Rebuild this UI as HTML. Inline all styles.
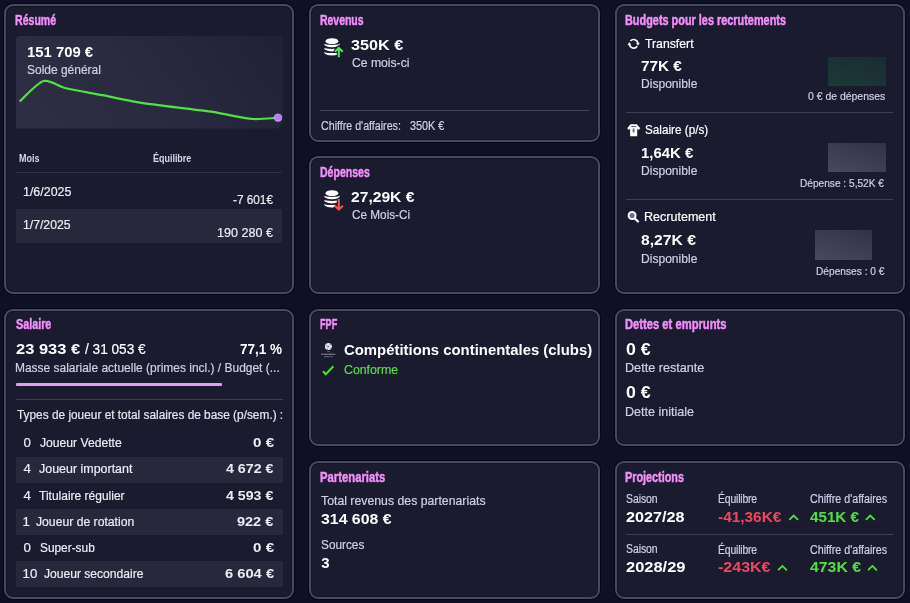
<!DOCTYPE html>
<html lang="fr"><head><meta charset="utf-8"><title>Finances</title>
<style>
html,body{margin:0;padding:0}
body{width:910px;height:603px;overflow:hidden;background:#0f0f25;position:relative;font-family:"Liberation Sans",Arial,sans-serif;}
.p{position:absolute;box-sizing:border-box;background:#1b1b2f;border:2px solid #48485f;border-radius:9px;box-shadow:0 0 0 1px rgba(0,0,8,.55),inset 0 0 0 1px rgba(8,8,20,.35)}
.t{position:absolute;white-space:nowrap;line-height:normal;transform-origin:0 0}
.r{position:absolute}
svg.ov{position:absolute;left:0;top:0}
</style></head><body>
<div class="p" style="left:4px;top:4px;width:290.4px;height:290px"></div>
<div class="p" style="left:308.9px;top:4px;width:291.2px;height:137.8px"></div>
<div class="p" style="left:308.9px;top:156.4px;width:291.2px;height:137.6px"></div>
<div class="p" style="left:614.8px;top:4px;width:290.2px;height:290px"></div>
<div class="p" style="left:4px;top:308.7px;width:290.4px;height:290.2px"></div>
<div class="p" style="left:308.9px;top:308.7px;width:291.2px;height:137.8px"></div>
<div class="p" style="left:308.9px;top:460.7px;width:291.2px;height:138.2px"></div>
<div class="p" style="left:614.8px;top:308.7px;width:290.2px;height:137.8px"></div>
<div class="p" style="left:614.8px;top:460.7px;width:290.2px;height:138.2px"></div>

<!-- Résumé chart box -->
<div class="r" style="left:15.7px;top:36px;width:267.3px;height:92.5px;border-radius:4px;background:linear-gradient(235deg,#212136 0%,#29293f 50%,#2e2e45 100%);clip-path:polygon(0 0,100% 0,100% calc(100% - 5px),calc(100% - 5px) 100%,0 100%)"></div>
<!-- table -->
<div class="r" style="left:15.8px;top:172.3px;width:266px;height:1px;background:#2f2f45"></div>
<div class="r" style="left:15.8px;top:209px;width:266px;height:33.5px;background:#28283d"></div>
<!-- Revenus divider -->
<div class="r" style="left:320.2px;top:109.5px;width:268.4px;height:1.5px;background:#45455c"></div>
<!-- Budgets -->
<div class="r" style="left:828px;top:56.5px;width:58px;height:29px;background:linear-gradient(200deg,#1a2b33 0%,#1c3a36 100%)"></div>
<div class="r" style="left:626px;top:112px;width:267px;height:1px;background:#3c3c52"></div>
<div class="r" style="left:827.7px;top:143.3px;width:58.4px;height:29.2px;background:linear-gradient(200deg,#323247 0%,#48485e 100%)"></div>
<div class="r" style="left:626px;top:199px;width:267px;height:1px;background:#3c3c52"></div>
<div class="r" style="left:815px;top:230.4px;width:57.3px;height:29.7px;background:linear-gradient(200deg,#323247 0%,#48485e 100%)"></div>
<!-- Salaire -->
<div class="r" style="left:15.7px;top:383.4px;width:206px;height:2.4px;border-radius:1px;background:#e79af0"></div>
<div class="r" style="left:15.7px;top:398.8px;width:267.3px;height:1px;background:#3c3c52"></div>
<div class="r" style="left:15.8px;top:457.2px;width:267px;height:26px;background:#28283d"></div>
<div class="r" style="left:15.8px;top:509.1px;width:267px;height:25.8px;background:#28283d"></div>
<div class="r" style="left:15.8px;top:561.1px;width:267px;height:25.8px;background:#28283d"></div>
<!-- Projections divider -->
<div class="r" style="left:626px;top:533.7px;width:267.2px;height:1px;background:#3c3c52"></div>

<svg class="ov" width="910" height="603" viewBox="0 0 910 603">
  <!-- chart line -->
  <path d="M20.2 100.9 C23.5 98.1 37.2 82.8 43.6 81.0 C50.0 79.2 57.8 86.2 66.0 88.2 C74.2 90.2 92.1 93.2 102.3 95.2 C112.5 97.2 127.0 100.5 138.5 102.3 C150.0 104.1 174.4 107.1 184.6 108.4 C194.8 109.7 204.4 110.7 211.0 111.7 C217.6 112.7 226.0 114.6 232.0 115.6 C238.0 116.6 247.5 118.7 253.9 119.0 C260.3 119.3 274.6 117.9 278.0 117.7" fill="none" stroke="#50e23e" stroke-width="2.2" stroke-linecap="round"/>
  <circle cx="278" cy="117.7" r="3.8" fill="#b57ff2" stroke="#d6b8f8" stroke-width="0.6"/>
  <!-- coins revenus -->
  <g transform="translate(320,34)">
    <path d="M3.9 9.6 A8.1 3.7 0 0 0 20.1 9.6 A8.1 1.3 0 0 1 3.9 9.6 Z" fill="#fff"/>
    <path d="M3.9 13.7 A8.1 3.7 0 0 0 20.1 13.7 A8.1 1.3 0 0 1 3.9 13.7 Z" fill="#fff"/>
    <path d="M3.9 17.8 A8.1 3.7 0 0 0 20.1 17.8 A8.1 1.3 0 0 1 3.9 17.8 Z" fill="#fff"/>
    <ellipse cx="11.95" cy="7.2" rx="6.4" ry="3.0" fill="#fff"/>
  </g>
  <g transform="translate(320,34)">
    <path d="M18.8 23.3 V13.9 M15 17.6 L18.8 13.8 L22.7 17.7" fill="none" stroke="#1b1b2f" stroke-width="4"/>
    <path d="M18.8 23.3 V13.9 M15 17.6 L18.8 13.8 L22.7 17.7" fill="none" stroke="#45ee45" stroke-width="2"/>
  </g>
  <!-- coins depenses -->
  <g transform="translate(320,186)">
    <path d="M3.9 9.6 A8.1 3.7 0 0 0 20.1 9.6 A8.1 1.3 0 0 1 3.9 9.6 Z" fill="#fff"/>
    <path d="M3.9 13.7 A8.1 3.7 0 0 0 20.1 13.7 A8.1 1.3 0 0 1 3.9 13.7 Z" fill="#fff"/>
    <path d="M3.9 17.8 A8.1 3.7 0 0 0 20.1 17.8 A8.1 1.3 0 0 1 3.9 17.8 Z" fill="#fff"/>
    <ellipse cx="11.95" cy="7.2" rx="6.4" ry="3.0" fill="#fff"/>
  </g>
  <g transform="translate(320,186)">
    <path d="M18.8 12.9 V23.4 M14.9 19.8 L18.8 23.7 L22.9 19.8" fill="none" stroke="#1b1b2f" stroke-width="4"/>
    <path d="M18.8 12.9 V23.4 M14.9 19.8 L18.8 23.7 L22.9 19.8" fill="none" stroke="#f25555" stroke-width="2"/>
  </g>
  <!-- refresh -->
  <g transform="translate(633.6,43.8)" fill="none" stroke="#fff" stroke-width="1.6">
    <path d="M-3.21 -2.86 A4.3 4.3 0 0 1 4.3 -0.4"/>
    <path d="M3.56 2.40 A4.3 4.3 0 0 1 -4.25 0.4"/>
    <path d="M2.9 -0.6 L5.7 -0.6 L4.3 1.5 Z" fill="#fff" stroke-width="0.6" stroke-linejoin="round"/>
    <path d="M-5.65 0.9 L-2.85 0.9 L-4.25 -1.2 Z" fill="#fff" stroke-width="0.6" stroke-linejoin="round"/>
  </g>
  <!-- shirt -->
  <g transform="translate(624,120)">
    <path d="M6.5 4.2 L12.8 4.2 L16.3 8.3 L14.6 10 L13.2 8.8 L13.2 16.3 L6.1 16.3 L6.1 8.8 L4.8 10 L3.2 8.3 Z" fill="#fff"/>
    <path d="M7.2 6.6 H12.1" stroke="#3a3a50" stroke-width="0.9"/>
    <ellipse cx="9.6" cy="10.4" rx="1.1" ry="2.2" fill="#6d6d85"/>
  </g>
  <!-- magnifier -->
  <g transform="translate(632.1,215.5)">
    <circle r="3.5" fill="#6c6c82" stroke="#fff" stroke-width="1.9"/>
    <path d="M2.8 3.1 L5.9 6.0" stroke="#fff" stroke-width="2.3" stroke-linecap="round"/>
  </g>
  <!-- UEFA -->
  <g transform="translate(328.4,346.6)">
    <circle r="3.5" fill="#e6e6ee"/>
    <path d="M-0.3 -0.9 L0.5 -0.2 L0.1 0.7 L-0.8 0.6 L-1 -0.3 Z" fill="#2a2a3e"/>
    <path d="M-2.6 -1.6 l0.9 0.2 l-0.2 0.9 l-0.8 -0.3 Z" fill="#3a3a4e"/>
    <path d="M1.6 -2.6 l0.9 0.4 l-0.4 0.8 l-0.7 -0.5 Z" fill="#3a3a4e"/>
    <path d="M2.3 1.0 l0.8 0.4 l-0.4 0.8 l-0.8 -0.4 Z" fill="#3a3a4e"/>
    <path d="M-1.6 2.0 l0.8 0.2 l-0.1 0.9 l-0.9 -0.2 Z" fill="#3a3a4e"/>
  </g>
  <path d="M327 351.6 H330" stroke="#a0a0b0" stroke-width="0.8" stroke-dasharray="0.6 0.4"/>
  <path d="M321.3 354.2 H335.3" stroke="#b8b8c8" stroke-width="1.1" stroke-dasharray="0.9 0.35"/>
  <path d="M324 356.7 H333" stroke="#9a9aae" stroke-width="0.9" stroke-dasharray="0.7 0.4"/>
  <!-- check -->
  <path d="M323 371.2 L325.8 374.2 L333.4 366.2" fill="none" stroke="#4be03a" stroke-width="2"/>
  <!-- chevrons -->
  <g fill="none" stroke="#4fe23f" stroke-width="1.8" stroke-linecap="round">
    <path d="M789.8 519.3 L793.6 515.5 L797.6 519.4"/>
    <path d="M866.4 519.3 L870.2 515.5 L874.2 519.4"/>
    <path d="M778.6 569.7 L782.4 565.9 L786.4 569.8"/>
    <path d="M868.6 569.7 L872.4 565.9 L876.4 569.8"/>
  </g>
</svg>
<div class="t" style="left:15.09px;top:11.10px;font-size:15px;font-weight:700;color:#f28ff9;transform:scaleX(0.7051);-webkit-text-stroke:0.5px #f28ff9;">Résumé</div>
<div class="t" style="left:27.00px;top:42.90px;font-size:15.3px;font-weight:700;color:#ffffff;transform:scaleX(0.9702);">151 709 €</div>
<div class="t" style="left:27.00px;top:62.80px;font-size:11.98px;font-weight:400;color:#d0d0e5;-webkit-text-stroke:0.2px #d0d0e5;">Solde général</div>
<div class="t" style="left:19.20px;top:152.50px;font-size:10px;font-weight:700;color:#d6d6e6;transform:scaleX(0.9002);">Mois</div>
<div class="t" style="left:152.60px;top:152.50px;font-size:10px;font-weight:700;color:#d6d6e6;transform:scaleX(0.8954);">Équilibre</div>
<div class="t" style="left:22.78px;top:183.60px;font-size:13.57px;font-weight:400;color:#ededf5;transform:scaleX(0.9171);-webkit-text-stroke:0.2px #ededf5;">1/6/2025</div>
<div class="t" style="left:232.70px;top:191.80px;font-size:13.25px;font-weight:400;color:#ededf5;transform:scaleX(0.8887);-webkit-text-stroke:0.2px #ededf5;">-7 601€</div>
<div class="t" style="left:22.80px;top:216.90px;font-size:13.57px;font-weight:400;color:#ededf5;transform:scaleX(0.8995);-webkit-text-stroke:0.2px #ededf5;">1/7/2025</div>
<div class="t" style="left:216.55px;top:224.70px;font-size:13.25px;font-weight:400;color:#ededf5;transform:scaleX(0.9509);-webkit-text-stroke:0.2px #ededf5;">190 280 €</div>
<div class="t" style="left:320.00px;top:10.80px;font-size:15px;font-weight:700;color:#f28ff9;transform:scaleX(0.6963);-webkit-text-stroke:0.5px #f28ff9;">Revenus</div>
<div class="t" style="left:351.00px;top:36.60px;font-size:14.9px;font-weight:700;color:#ffffff;transform:scaleX(1.0855);">350K €</div>
<div class="t" style="left:351.50px;top:55.60px;font-size:12.51px;font-weight:400;color:#d0d0e5;transform:scaleX(0.9733);-webkit-text-stroke:0.2px #d0d0e5;">Ce mois-ci</div>
<div class="t" style="left:320.70px;top:119.20px;font-size:11.87px;font-weight:400;color:#d0d0e5;transform:scaleX(0.8990);-webkit-text-stroke:0.2px #d0d0e5;">Chiffre d'affaires:</div>
<div class="t" style="left:409.70px;top:119.20px;font-size:11.87px;font-weight:400;color:#d0d0e5;transform:scaleX(0.9107);-webkit-text-stroke:0.2px #d0d0e5;">350K €</div>
<div class="t" style="left:320.00px;top:162.90px;font-size:15px;font-weight:700;color:#f28ff9;transform:scaleX(0.7033);-webkit-text-stroke:0.5px #f28ff9;">Dépenses</div>
<div class="t" style="left:351.00px;top:189.20px;font-size:14.8px;font-weight:700;color:#ffffff;transform:scaleX(1.0564);">27,29K €</div>
<div class="t" style="left:351.50px;top:208.00px;font-size:12.51px;font-weight:400;color:#d0d0e5;transform:scaleX(0.9405);-webkit-text-stroke:0.2px #d0d0e5;">Ce Mois-Ci</div>
<div class="t" style="left:625.27px;top:10.90px;font-size:15px;font-weight:700;color:#f28ff9;transform:scaleX(0.7260);-webkit-text-stroke:0.5px #f28ff9;">Budgets pour les recrutements</div>
<div class="t" style="left:645.00px;top:36.30px;font-size:13.04px;font-weight:400;color:#ffffff;transform:scaleX(0.9398);-webkit-text-stroke:0.2px #ffffff;">Transfert</div>
<div class="t" style="left:641.10px;top:57.00px;font-size:15.5px;font-weight:700;color:#ffffff;transform:scaleX(0.9870);">77K €</div>
<div class="t" style="left:640.77px;top:76.00px;font-size:13.04px;font-weight:400;color:#d0d0e5;transform:scaleX(0.9262);-webkit-text-stroke:0.2px #d0d0e5;">Disponible</div>
<div class="t" style="left:807.50px;top:90.00px;font-size:11.45px;font-weight:400;color:#d0d0e5;transform:scaleX(0.9132);-webkit-text-stroke:0.2px #d0d0e5;">0 € de dépenses</div>
<div class="t" style="left:644.50px;top:121.50px;font-size:13.04px;font-weight:400;color:#ffffff;transform:scaleX(0.8998);-webkit-text-stroke:0.2px #ffffff;">Salaire (p/s)</div>
<div class="t" style="left:641.10px;top:144.20px;font-size:15.2px;font-weight:700;color:#ffffff;transform:scaleX(0.9824);">1,64K €</div>
<div class="t" style="left:640.77px;top:163.40px;font-size:13.04px;font-weight:400;color:#d0d0e5;transform:scaleX(0.9262);-webkit-text-stroke:0.2px #d0d0e5;">Disponible</div>
<div class="t" style="left:799.80px;top:177.10px;font-size:11.45px;font-weight:400;color:#d0d0e5;transform:scaleX(0.8859);-webkit-text-stroke:0.2px #d0d0e5;">Dépense : 5,52K €</div>
<div class="t" style="left:644.04px;top:208.50px;font-size:13.04px;font-weight:400;color:#ffffff;transform:scaleX(0.9624);-webkit-text-stroke:0.2px #ffffff;">Recrutement</div>
<div class="t" style="left:641.10px;top:231.20px;font-size:15.2px;font-weight:700;color:#ffffff;transform:scaleX(1.0326);">8,27K €</div>
<div class="t" style="left:640.77px;top:250.50px;font-size:13.04px;font-weight:400;color:#d0d0e5;transform:scaleX(0.9262);-webkit-text-stroke:0.2px #d0d0e5;">Disponible</div>
<div class="t" style="left:815.80px;top:264.70px;font-size:11.45px;font-weight:400;color:#d0d0e5;transform:scaleX(0.8895);-webkit-text-stroke:0.2px #d0d0e5;">Dépenses : 0 €</div>
<div class="t" style="left:15.70px;top:315.20px;font-size:15px;font-weight:700;color:#f28ff9;transform:scaleX(0.7184);-webkit-text-stroke:0.5px #f28ff9;">Salaire</div>
<div class="t" style="left:15.70px;top:340.20px;font-size:15px;font-weight:700;color:#ffffff;transform:scaleX(1.0974);">23 933 €</div>
<div class="t" style="left:85.00px;top:340.20px;font-size:15.37px;font-weight:400;color:#ffffff;transform:scaleX(0.8869);-webkit-text-stroke:0.2px #ffffff;">/ 31 053 €</div>
<div class="t" style="left:239.90px;top:340.10px;font-size:15.2px;font-weight:700;color:#ffffff;transform:scaleX(0.8895);">77,1 %</div>
<div class="t" style="left:14.74px;top:360.80px;font-size:12.51px;font-weight:400;color:#d0d0e5;transform:scaleX(0.9574);-webkit-text-stroke:0.2px #d0d0e5;">Masse salariale actuelle (primes incl.) / Budget (...</div>
<div class="t" style="left:16.60px;top:408.10px;font-size:12.51px;font-weight:400;color:#e6e6f0;transform:scaleX(0.9482);-webkit-text-stroke:0.2px #e6e6f0;">Types de joueur et total salaires de base (p/sem.) :</div>
<div class="t" style="left:23.60px;top:435.40px;font-size:13.25px;font-weight:400;color:#ededf5;-webkit-text-stroke:0.2px #ededf5;">0</div>
<div class="t" style="left:39.50px;top:435.40px;font-size:13.25px;font-weight:400;color:#ededf5;transform:scaleX(0.9170);-webkit-text-stroke:0.2px #ededf5;">Joueur Vedette</div>
<div class="t" style="left:252.50px;top:435.40px;font-size:13.5px;font-weight:700;color:#ededf5;transform:scaleX(1.1216);">0 €</div>
<div class="t" style="left:23.60px;top:461.45px;font-size:13.25px;font-weight:400;color:#ededf5;-webkit-text-stroke:0.2px #ededf5;">4</div>
<div class="t" style="left:39.00px;top:461.45px;font-size:13.25px;font-weight:400;color:#ededf5;transform:scaleX(0.9394);-webkit-text-stroke:0.2px #ededf5;">Joueur important</div>
<div class="t" style="left:226.10px;top:461.45px;font-size:13.5px;font-weight:700;color:#ededf5;transform:scaleX(1.0542);">4 672 €</div>
<div class="t" style="left:23.60px;top:487.50px;font-size:13.25px;font-weight:400;color:#ededf5;-webkit-text-stroke:0.2px #ededf5;">4</div>
<div class="t" style="left:39.20px;top:487.50px;font-size:13.25px;font-weight:400;color:#ededf5;transform:scaleX(0.9054);-webkit-text-stroke:0.2px #ededf5;">Titulaire régulier</div>
<div class="t" style="left:226.30px;top:487.50px;font-size:13.5px;font-weight:700;color:#ededf5;transform:scaleX(1.0498);">4 593 €</div>
<div class="t" style="left:22.60px;top:513.55px;font-size:13.25px;font-weight:400;color:#ededf5;-webkit-text-stroke:0.2px #ededf5;">1</div>
<div class="t" style="left:36.00px;top:513.55px;font-size:13.25px;font-weight:400;color:#ededf5;transform:scaleX(0.9198);-webkit-text-stroke:0.2px #ededf5;">Joueur de rotation</div>
<div class="t" style="left:237.30px;top:513.55px;font-size:13.5px;font-weight:700;color:#ededf5;transform:scaleX(1.0737);">922 €</div>
<div class="t" style="left:23.60px;top:539.60px;font-size:13.25px;font-weight:400;color:#ededf5;-webkit-text-stroke:0.2px #ededf5;">0</div>
<div class="t" style="left:39.70px;top:539.60px;font-size:13.25px;font-weight:400;color:#ededf5;transform:scaleX(0.8953);-webkit-text-stroke:0.2px #ededf5;">Super-sub</div>
<div class="t" style="left:252.50px;top:539.60px;font-size:13.5px;font-weight:700;color:#ededf5;transform:scaleX(1.1216);">0 €</div>
<div class="t" style="left:22.60px;top:565.65px;font-size:13.25px;font-weight:400;color:#ededf5;-webkit-text-stroke:0.2px #ededf5;">10</div>
<div class="t" style="left:44.20px;top:565.65px;font-size:13.25px;font-weight:400;color:#ededf5;transform:scaleX(0.9121);-webkit-text-stroke:0.2px #ededf5;">Joueur secondaire</div>
<div class="t" style="left:224.50px;top:565.65px;font-size:13.5px;font-weight:700;color:#ededf5;transform:scaleX(1.0893);">6 604 €</div>
<div class="t" style="left:320.09px;top:315.30px;font-size:15px;font-weight:700;color:#f28ff9;transform:scaleX(0.6073);-webkit-text-stroke:0.5px #f28ff9;">FPF</div>
<div class="t" style="left:343.80px;top:341.50px;font-size:14.8px;font-weight:700;color:#ffffff;transform:scaleX(1.0061);">Compétitions continentales (clubs)</div>
<div class="t" style="left:344.30px;top:361.50px;font-size:12.93px;font-weight:400;color:#4fe23f;transform:scaleX(0.9532);-webkit-text-stroke:0.2px #4fe23f;">Conforme</div>
<div class="t" style="left:320.15px;top:467.90px;font-size:15px;font-weight:700;color:#f28ff9;transform:scaleX(0.7532);-webkit-text-stroke:0.5px #f28ff9;">Partenariats</div>
<div class="t" style="left:320.90px;top:493.10px;font-size:12.93px;font-weight:400;color:#d0d0e5;transform:scaleX(0.9505);-webkit-text-stroke:0.2px #d0d0e5;">Total revenus des partenariats</div>
<div class="t" style="left:320.90px;top:510.30px;font-size:15.2px;font-weight:700;color:#ffffff;transform:scaleX(1.0438);">314 608 €</div>
<div class="t" style="left:320.90px;top:537.40px;font-size:12.93px;font-weight:400;color:#d0d0e5;transform:scaleX(0.9139);-webkit-text-stroke:0.2px #d0d0e5;">Sources</div>
<div class="t" style="left:321.20px;top:554.40px;font-size:15px;font-weight:700;color:#ffffff;">3</div>
<div class="t" style="left:625.15px;top:315.30px;font-size:15px;font-weight:700;color:#f28ff9;transform:scaleX(0.7471);-webkit-text-stroke:0.5px #f28ff9;">Dettes et emprunts</div>
<div class="t" style="left:626.30px;top:340.60px;font-size:15.8px;font-weight:700;color:#ffffff;transform:scaleX(1.1229);">0 €</div>
<div class="t" style="left:625.32px;top:359.70px;font-size:12.93px;font-weight:400;color:#d0d0e5;transform:scaleX(0.9778);-webkit-text-stroke:0.2px #d0d0e5;">Dette restante</div>
<div class="t" style="left:626.30px;top:384.30px;font-size:15.8px;font-weight:700;color:#ffffff;transform:scaleX(1.1229);">0 €</div>
<div class="t" style="left:625.33px;top:403.80px;font-size:12.93px;font-weight:400;color:#d0d0e5;transform:scaleX(0.9711);-webkit-text-stroke:0.2px #d0d0e5;">Dette initiale</div>
<div class="t" style="left:625.28px;top:468.10px;font-size:15px;font-weight:700;color:#f28ff9;transform:scaleX(0.7219);-webkit-text-stroke:0.5px #f28ff9;">Projections</div>
<div class="t" style="left:626.30px;top:492.00px;font-size:11.87px;font-weight:400;color:#d0d0e5;transform:scaleX(0.8800);letter-spacing:-0.065px;-webkit-text-stroke:0.2px #d0d0e5;">Saison</div>
<div class="t" style="left:718.10px;top:492.20px;font-size:11.87px;font-weight:400;color:#d0d0e5;transform:scaleX(0.8800);letter-spacing:-0.208px;-webkit-text-stroke:0.2px #d0d0e5;">Équilibre</div>
<div class="t" style="left:809.60px;top:492.20px;font-size:11.87px;font-weight:400;color:#d0d0e5;transform:scaleX(0.9017);-webkit-text-stroke:0.2px #d0d0e5;">Chiffre d'affaires</div>
<div class="t" style="left:626.30px;top:542.40px;font-size:11.87px;font-weight:400;color:#d0d0e5;transform:scaleX(0.8800);letter-spacing:-0.065px;-webkit-text-stroke:0.2px #d0d0e5;">Saison</div>
<div class="t" style="left:718.10px;top:542.60px;font-size:11.87px;font-weight:400;color:#d0d0e5;transform:scaleX(0.8800);letter-spacing:-0.208px;-webkit-text-stroke:0.2px #d0d0e5;">Équilibre</div>
<div class="t" style="left:809.60px;top:542.60px;font-size:11.87px;font-weight:400;color:#d0d0e5;transform:scaleX(0.9017);-webkit-text-stroke:0.2px #d0d0e5;">Chiffre d'affaires</div>
<div class="t" style="left:626.20px;top:507.60px;font-size:15.2px;font-weight:700;color:#ffffff;transform:scaleX(1.0652);">2027/28</div>
<div class="t" style="left:626.20px;top:558.10px;font-size:15.2px;font-weight:700;color:#ffffff;transform:scaleX(1.0835);">2028/29</div>
<div class="t" style="left:718.10px;top:507.90px;font-size:15.5px;font-weight:700;color:#f2455f;transform:scaleX(0.9931);">-41,36K€</div>
<div class="t" style="left:718.10px;top:558.30px;font-size:15.5px;font-weight:700;color:#f2455f;transform:scaleX(1.0329);">-243K€</div>
<div class="t" style="left:809.60px;top:507.90px;font-size:15.5px;font-weight:700;color:#4fe23f;transform:scaleX(0.9789);">451K €</div>
<div class="t" style="left:809.60px;top:558.30px;font-size:15.5px;font-weight:700;color:#4fe23f;transform:scaleX(1.0206);">473K €</div>
</body></html>
